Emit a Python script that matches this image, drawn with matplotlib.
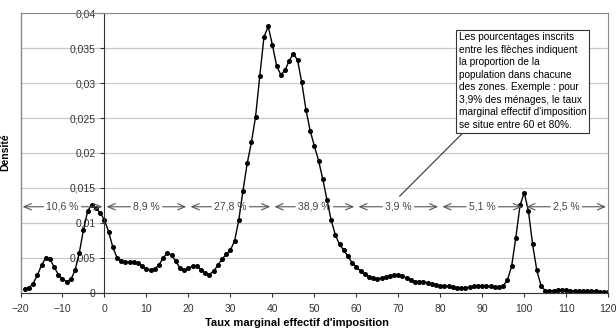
import matplotlib.pyplot as plt
import matplotlib.ticker as mticker

plt.rcParams['font.family'] = ['Liberation Sans', 'DejaVu Sans']

# density curve, one point per unit of marginal rate
taux = list(range(-19, 121))
densite = [
    0.0006, 0.0007, 0.0013, 0.0025, 0.0039, 0.0050, 0.0048, 0.0037, 0.0026, 0.0019,
    0.0016, 0.0019, 0.0032, 0.0057, 0.0090, 0.0117, 0.0126, 0.0121, 0.0114, 0.0104,
    0.0087, 0.0065, 0.0050, 0.0045, 0.0044, 0.0044, 0.0044, 0.0042, 0.0038, 0.0034,
    0.0032, 0.0034, 0.0040, 0.0050, 0.0057, 0.0054, 0.0045, 0.0035, 0.0032, 0.0035,
    0.0038, 0.0038, 0.0033, 0.0028, 0.0026, 0.0031, 0.0039, 0.0048, 0.0055, 0.0061,
    0.0074, 0.0104, 0.0146, 0.0185, 0.0215, 0.0252, 0.0310, 0.0366, 0.0381, 0.0355,
    0.0325, 0.0312, 0.0318, 0.0332, 0.0342, 0.0333, 0.0301, 0.0262, 0.0232, 0.0210,
    0.0189, 0.0163, 0.0133, 0.0104, 0.0083, 0.0069, 0.0061, 0.0052, 0.0043, 0.0037,
    0.0031, 0.0027, 0.0023, 0.0021, 0.0020, 0.0021, 0.0022, 0.0024, 0.0025, 0.0026,
    0.0024, 0.0021, 0.0018, 0.0016, 0.0016, 0.0016, 0.0014, 0.0013, 0.0011, 0.0010,
    0.0010, 0.0009, 0.0008, 0.0007, 0.0007, 0.0007, 0.0008, 0.0009, 0.0010, 0.0010,
    0.0009, 0.0009, 0.0008, 0.0008, 0.0010, 0.0018, 0.0038, 0.0079, 0.0125, 0.0143,
    0.0117, 0.0069, 0.0032, 0.0010, 0.0003, 0.0003, 0.0003, 0.0004, 0.0004, 0.0004,
    0.0003, 0.0002, 0.0002, 0.0002, 0.0002, 0.0002, 0.0002, 0.0001, 0.0001, 0.0001,
]

# population share in each 20-point zone
zone_bornes = [-20, 0, 20, 40, 60, 80, 100, 120]
zone_parts = ["10,6 %", "8,9 %", "27,8 %", "38,9 %", "3,9 %", "5,1 %", "2,5 %"]

note = ("Les pourcentages inscrits\n"
        "entre les flèches indiquent\n"
        "la proportion de la\n"
        "population dans chacune\n"
        "des zones. Exemple : pour\n"
        "3,9% des ménages, le taux\n"
        "marginal effectif d'imposition\n"
        "se situe entre 60 et 80%.")

fig = plt.figure(figsize=(6.16, 3.3), dpi=100)
ax = fig.add_axes([0.0333, 0.113, 0.954, 0.847])

ax.set_xlim(-20, 120)
ax.set_ylim(0, 0.04)
ax.set_xticks(range(-20, 121, 10))
ax.set_yticks([i * 0.005 for i in range(9)])
ax.yaxis.set_major_formatter(mticker.FuncFormatter(
    lambda v, p: "0" if v == 0 else ("%g" % round(v, 3)).replace(".", ",")))

ax.grid(axis="y", color="#c8c8c8", lw=0.9)
ax.set_axisbelow(True)

ax.spines["left"].set_position(("data", 0))
ax.spines["left"].set_color("#333333")
ax.spines["bottom"].set_color("#333333")
for s in ["top", "right"]:
    ax.spines[s].set_color("#8a8a8a")
ax.axvline(-20, color="#8a8a8a", lw=1.0, clip_on=False)

ax.tick_params(axis="both", direction="out", length=3, width=0.8,
               color="#333333", labelsize=7.5, labelcolor="#333333")
ax.tick_params(axis="x", pad=5)
ax.tick_params(axis="y", pad=3.5)

ax.plot(taux, densite, color="black", lw=1.0, marker="o", markersize=2.6)

# double arrows with the share of each zone
y_fl = 0.0123
for i, lab in enumerate(zone_parts):
    x0, x1 = zone_bornes[i], zone_bornes[i + 1]
    xc = (x0 + x1) / 2
    ax.annotate(lab, xy=(x0 + 0.5, y_fl), xytext=(xc, y_fl),
                ha="center", va="center", fontsize=7.5, color="#444444",
                arrowprops=dict(arrowstyle="->,head_length=0.7,head_width=0.3",
                                color="#555555", lw=0.8, shrinkA=0, shrinkB=0))
    ax.annotate(lab, xy=(x1 - 0.5, y_fl), xytext=(xc, y_fl),
                ha="center", va="center", fontsize=7.5, color="none",
                arrowprops=dict(arrowstyle="->,head_length=0.7,head_width=0.3",
                                color="#555555", lw=0.8, shrinkA=0, shrinkB=0))

ax.annotate(note, xy=(70.3, 0.0138), xytext=(84.4, 0.0373),
            ha="left", va="top", fontsize=7.3, linespacing=1.32,
            bbox=dict(boxstyle="square,pad=0.25", fc="white", ec="#333333", lw=0.8),
            arrowprops=dict(arrowstyle="-", color="#333333", lw=0.8,
                            relpos=(0.055, 0), shrinkA=0, shrinkB=0))

fig.text(0.009, 0.54, "Densité", rotation=90, ha="center", va="center",
         fontsize=7.5, fontweight="bold")
fig.text(0.482, 0.021, "Taux marginal effectif d'imposition", ha="center",
         va="center", fontsize=8, fontweight="bold")

fig.savefig("out.png", dpi=100)
